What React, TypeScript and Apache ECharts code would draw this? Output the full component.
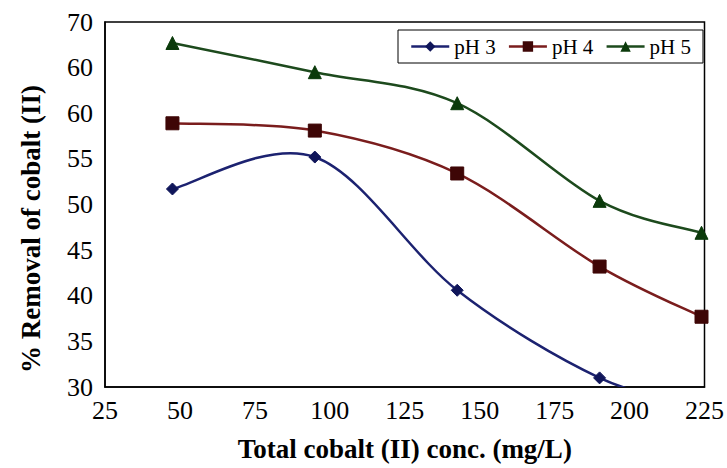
import React, { useEffect, useRef } from "react";
import * as echarts from "echarts";

const concentrations = [47.5, 95, 142.5, 190, 224];
const ph3Values = [51.7, 55.2, 40.6, 31.0, 28.0];
const ph4Values = [58.9, 58.1, 53.4, 43.2, 37.7];
const ph5Values = [67.7, 64.5, 61.1, 50.4, 46.9];
const seriesNames = ["pH 3", "pH 4", "pH 5"];
const yTickValues = [30, 35, 40, 45, 50, 55, 60, 65, 70];
const yTickLabels = ["30", "35", "40", "45", "50", "55", "60", "60", "70"];
const xTitle = "Total cobalt (II) conc. (mg/L)";
const yTitle = "% Removal of cobalt (II)";

const FONT = "'Liberation Serif', 'Times New Roman', serif";

export default function App() {
  const ref = useRef<HTMLDivElement>(null);
  useEffect(() => {
    if (!ref.current) return;
    const chart = echarts.init(ref.current, undefined, { renderer: "svg" });
    const pair = (ys: number[]) => concentrations.map((x, i) => [x, ys[i]]);
    const markers = (name: string, ys: number[], symbol: string, size: number, line: string, mark: string) => ({
      name,
      type: "line",
      data: pair(ys),
      z: 4,
      symbol,
      symbolSize: size,
      clip: true,
      lineStyle: { color: line, width: 2.5, opacity: 0 },
      itemStyle: { color: mark, borderColor: mark },
    });
    const curve = (name: string, ys: number[], color: string) => ({
      name: "curve " + name,
      type: "custom",
      z: 3,
      data: [[concentrations[0], ys[0]]],
      encode: { x: 0, y: 1 },
      renderItem: (params: any, api: any) => {
        const pts = concentrations.map((x, i) => api.coord([x, ys[i]]));
        let d = `M${pts[0][0]},${pts[0][1]}`;
        for (let i = 0; i < pts.length - 1; i++) {
          const p0 = pts[Math.max(i - 1, 0)];
          const p1 = pts[i];
          const p2 = pts[i + 1];
          const p3 = pts[Math.min(i + 2, pts.length - 1)];
          const c1 = [p1[0] + (p2[0] - p0[0]) / 6, p1[1] + (p2[1] - p0[1]) / 6];
          const c2 = [p2[0] - (p3[0] - p1[0]) / 6, p2[1] - (p3[1] - p1[1]) / 6];
          d += ` C${c1[0]},${c1[1]} ${c2[0]},${c2[1]} ${p2[0]},${p2[1]}`;
        }
        const cs = params.coordSys;
        return {
          type: "group",
          clipPath: { type: "rect", shape: { x: cs.x, y: cs.y, width: cs.width, height: cs.height } },
          children: [
            {
              type: "path",
              shape: { pathData: d },
              style: { fill: "none", stroke: color, lineWidth: 2.5 },
            },
          ],
        };
      },
    });
    chart.setOption({
      animation: false,
      backgroundColor: "#ffffff",
      grid: {
        left: 105,
        right: 18,
        top: 22,
        bottom: 81,
        show: true,
        borderColor: "#000",
        borderWidth: 1.5,
        backgroundColor: "transparent",
      },
      legend: {
        data: seriesNames,
        left: 398,
        top: 30,
        orient: "horizontal",
        padding: [6, 12],
        itemGap: 12,
        itemWidth: 38,
        itemHeight: 13,
        borderColor: "#000",
        borderWidth: 1,
        backgroundColor: "#fff",
        lineStyle: { opacity: 1, width: 2.5 },
        textStyle: { fontFamily: FONT, fontSize: 21, color: "#000" },
      },
      graphic: [
        {
          type: "text",
          x: 31,
          y: 229,
          rotation: Math.PI / 2,
          style: {
            text: yTitle,
            fontFamily: FONT,
            fontSize: 27,
            fontWeight: "bold",
            fill: "#000",
            align: "center",
            verticalAlign: "middle",
          },
        },
      ],
      xAxis: {
        type: "value",
        min: 25,
        max: 225,
        interval: 25,
        axisLine: { show: true, lineStyle: { color: "#000", width: 1.5 } },
        axisTick: { show: false },
        splitLine: { show: false },
        axisLabel: { fontFamily: FONT, fontSize: 26, color: "#000", margin: 10 },
        name: xTitle,
        nameLocation: "middle",
        nameGap: 48,
        nameTextStyle: { fontFamily: FONT, fontSize: 27, fontWeight: "bold", color: "#000" },
      },
      yAxis: {
        type: "value",
        min: 30,
        max: 70,
        interval: 5,
        axisLine: { show: true, lineStyle: { color: "#000", width: 1.5 } },
        axisTick: { show: false },
        splitLine: { show: false },
        axisLabel: {
          fontFamily: FONT,
          fontSize: 26,
          color: "#000",
          margin: 12,
          formatter: (v: number) => {
            const i = yTickValues.indexOf(Math.round(v));
            return i >= 0 ? yTickLabels[i] : String(v);
          },
        },
      },
      series: [
        curve(seriesNames[0], ph3Values, "#1c2270"),
        curve(seriesNames[1], ph4Values, "#7a1d1d"),
        curve(seriesNames[2], ph5Values, "#1d4a1d"),
        markers(seriesNames[0], ph3Values, "diamond", 12, "#1c2270", "#10165a"),
        markers(seriesNames[1], ph4Values, "rect", 13, "#7a1d1d", "#3e0606"),
        markers(seriesNames[2], ph5Values, "triangle", 13, "#1d4a1d", "#0b3a0b"),
      ],
    });
    return () => chart.dispose();
  }, []);
  return (
    <div
      ref={ref}
      style={{ position: "fixed", left: 0, top: 0, width: 727, height: 468, background: "#fff" }}
    />
  );
}
